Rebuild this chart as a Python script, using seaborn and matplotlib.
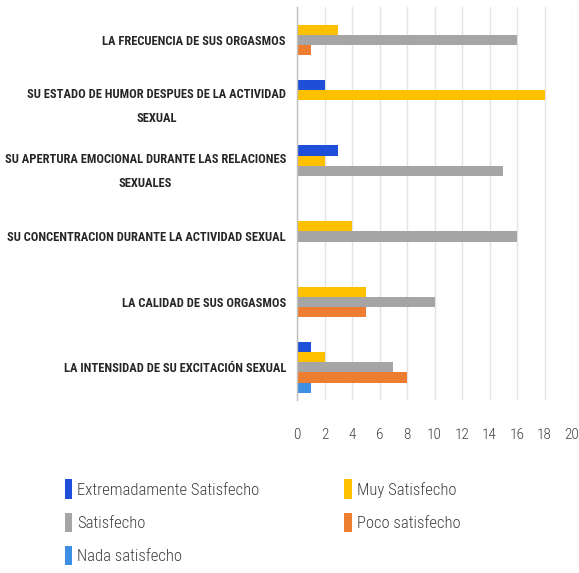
import matplotlib
matplotlib.use("Agg")
import matplotlib.pyplot as plt
import matplotlib.transforms as mtransforms
import seaborn as sns
import pandas as pd
from matplotlib.patches import Patch

categories = [
    "LA FRECUENCIA DE SUS ORGASMOS",
    "SU ESTADO DE HUMOR DESPUES DE LA ACTIVIDAD\nSEXUAL",
    "SU APERTURA EMOCIONAL DURANTE LAS RELACIONES\nSEXUALES",
    "SU CONCENTRACION DURANTE LA ACTIVIDAD SEXUAL",
    "LA CALIDAD DE SUS ORGASMOS",
    "LA INTENSIDAD DE SU EXCITACIÓN SEXUAL",
]
series = ["Extremadamente Satisfecho", "Muy Satisfecho", "Satisfecho",
          "Poco satisfecho", "Nada satisfecho"]
extremadamente = [0, 2, 3, 0, 0, 1]
muy = [3, 18, 2, 4, 5, 2]
satisfecho = [16, 0, 15, 16, 10, 7]
poco = [1, 0, 0, 0, 5, 8]
nada = [0, 0, 0, 0, 0, 1]
x_ticks = [0, 2, 4, 6, 8, 10, 12, 14, 16, 18, 20]
colors = ["#1F4ED8", "#FFC000", "#A5A5A5", "#ED7D31", "#3D8FE3"]

rows = []
for s, vals in zip(series, [extremadamente, muy, satisfecho, poco, nada]):
    for c, v in zip(categories, vals):
        rows.append({"cat": c, "serie": s, "val": v})
df = pd.DataFrame(rows)

sns.set_style("white")
plt.rcParams["font.family"] = ["Roboto Condensed", "DejaVu Sans"]

fig = plt.figure(figsize=(5.79, 5.73), dpi=100)
ax = fig.add_axes([0.513, 0.302, 0.475, 0.685])
sns.barplot(data=df, y="cat", x="val", hue="serie", order=categories,
            hue_order=series, palette=colors, orient="h", width=0.78,
            ax=ax, legend=False, saturation=1, errorbar=None, linewidth=0)

ax.set_xlim(0, 20)
ax.set_ylim(len(categories) - 0.5, -0.5)
ax.set_xticks(x_ticks)
ax.set_xticklabels([str(t) for t in x_ticks], fontsize=11, color="#404040",
                   fontweight="light")
ax.tick_params(axis="x", length=0, pad=20)
ax.tick_params(axis="y", length=0, pad=8)
for lab in ax.get_yticklabels():
    lab.set_fontsize(9)
    lab.set_fontweight("bold")
    lab.set_color("#262626")
    lab.set_multialignment("center")
    lab.set_linespacing(2.1)
    if "\n" in lab.get_text():
        lab.set_transform(lab.get_transform() +
                          mtransforms.ScaledTranslation(0, 6 / 100, fig.dpi_scale_trans))
ax.set_xlabel("")
ax.set_ylabel("")
ax.grid(axis="x", color="#E3E3E3", linewidth=1.0)
ax.set_axisbelow(True)
for sp in ["top", "right", "bottom"]:
    ax.spines[sp].set_visible(False)
ax.spines["left"].set_color("#BFBFBF")
ax.spines["left"].set_linewidth(1.0)

handles = [Patch(facecolor=c, edgecolor="none") for c in colors]
order = [0, 2, 4, 1, 3]
fig.legend([handles[i] for i in order], [series[i] for i in order],
           loc="upper left", bbox_to_anchor=(0.1, 0.175), ncol=2,
           frameon=False, prop={"family": "Roboto Condensed", "weight": "light", "size": 12},
           handlelength=0.45, handleheight=1.4,
           handletextpad=0.3, columnspacing=5.1, labelspacing=0.85,
           borderaxespad=0, labelcolor="#404040")

fig.savefig("out.png", dpi=100)
